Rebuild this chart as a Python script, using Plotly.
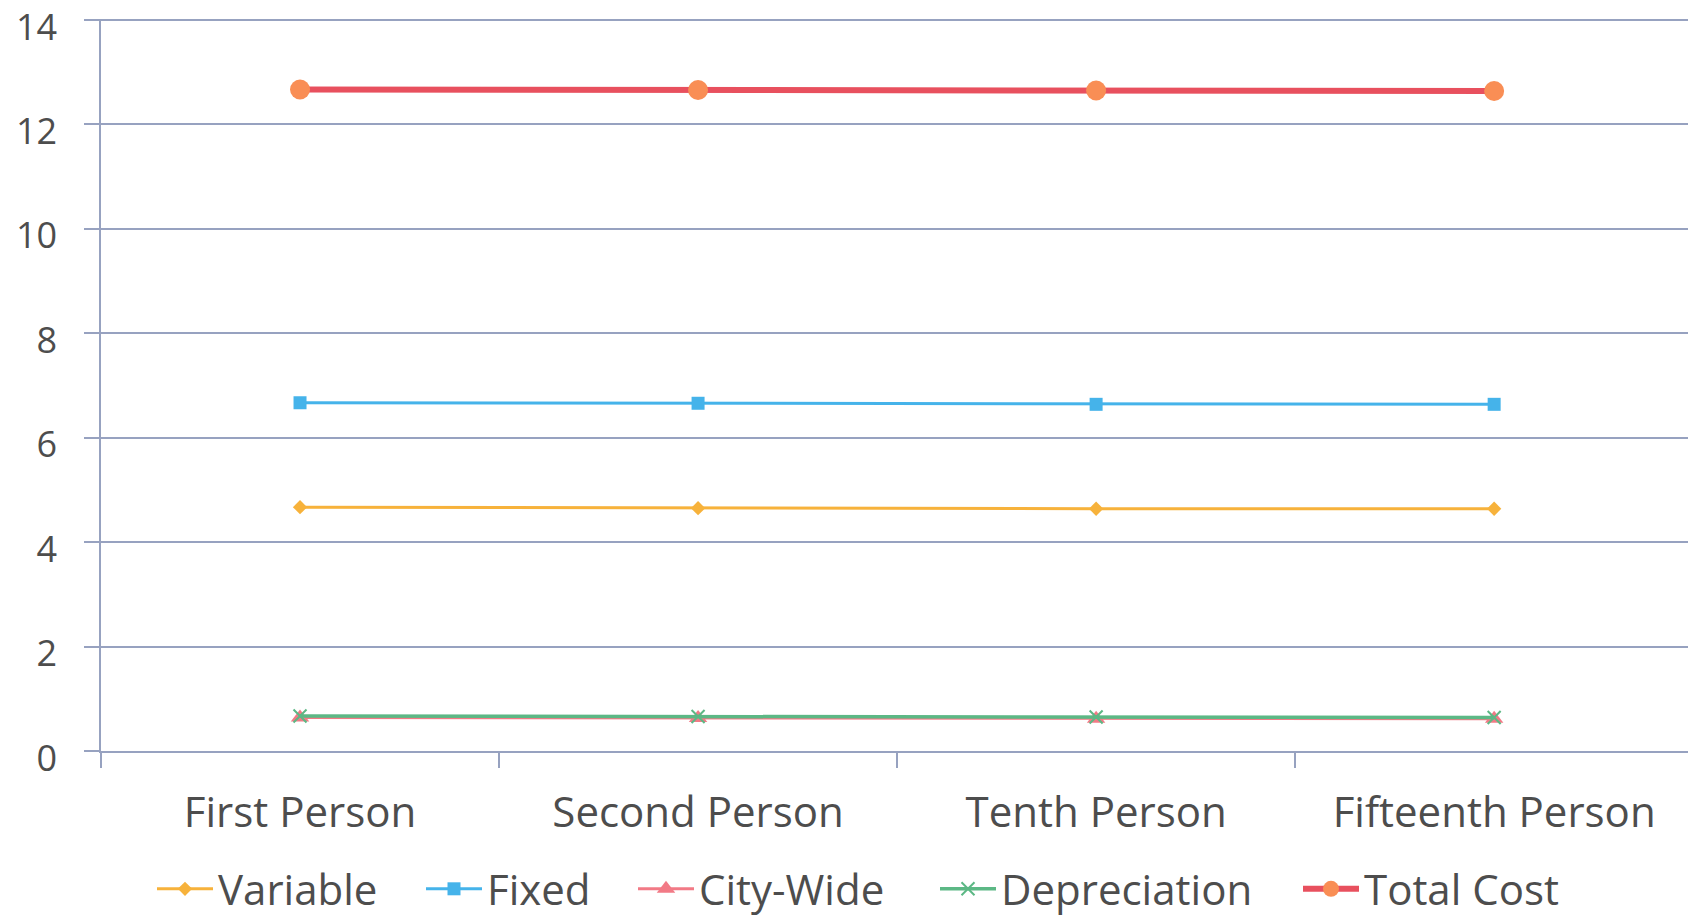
import plotly.graph_objects as go

# Cost per person for each stage of enrolment
categories = ["First Person", "Second Person", "Tenth Person", "Fifteenth Person"]
variable = [4.67, 4.65, 4.64, 4.64]
fixed = [6.67, 6.66, 6.64, 6.64]
city_wide = [0.64, 0.63, 0.62, 0.62]
depreciation = [0.67, 0.66, 0.65, 0.64]
total_cost = [12.67, 12.66, 12.65, 12.64]
y_ticks = [0, 2, 4, 6, 8, 10, 12, 14]

FONT = "Open Sans"
TEXT = "#4d4d4d"
GRID = "#97a2c0"

W, H = 1688, 919
PLOT_L, PLOT_T, PLOT_B = 101, 19, 168

fig = go.Figure()

# each series gets its own legend so the entries can be spread along the bottom
legend_px = {"Variable": 152, "Fixed": 421, "City-Wide": 633, "Depreciation": 935, "Total Cost": 1298}
LEGEND_Y = 889

def add_series(name, values, line_color, width, symbol, size, idx, marker_color=None, mline=0):
    lg = "legend" if idx == 1 else f"legend{idx}"
    fig.add_trace(go.Scatter(
        x=categories, y=values, name=name, mode="lines+markers",
        line=dict(color=line_color, width=width),
        marker=dict(symbol=symbol, size=size, color=marker_color or line_color,
                    line=dict(width=mline, color=marker_color or line_color)),
        legend=lg,
    ))
    fig.update_layout({lg: dict(
        xref="container", yref="container",
        x=legend_px[name] / W, xanchor="left",
        y=1 - LEGEND_Y / H, yanchor="middle", orientation="h", itemwidth=56,
        font=dict(size=42, color=TEXT, family=FONT),
        bgcolor="rgba(0,0,0,0)",
    )})

add_series("Variable", variable, "#f7b23b", 3, "diamond", 11, 1)
add_series("Fixed", fixed, "#45b3ea", 3, "square", 13, 2)
add_series("City-Wide", city_wide, "#f27a86", 3, "triangle-up", 16, 3)
add_series("Depreciation", depreciation, "#5cb885", 3.5, "x-thin", 13, 4, mline=2)
add_series("Total Cost", total_cost, "#e8505e", 6, "circle", 20, 5, marker_color="#f98e55")

fig.update_layout(
    width=W, height=H,
    margin=dict(l=PLOT_L, r=0, t=PLOT_T, b=PLOT_B),
    paper_bgcolor="white", plot_bgcolor="white",
    font=dict(family=FONT, color=TEXT, size=40),
    showlegend=True,
    xaxis=dict(
        type="category", range=[-0.5, 3.487], automargin=False,
        showgrid=False, showline=True, linecolor=GRID, linewidth=1.5,
        ticks="outside", tickson="boundaries", ticklen=15, tickcolor=GRID, tickwidth=1.5,
        tickfont=dict(size=42, color=TEXT), ticklabelstandoff=24,
    ),
    yaxis=dict(
        range=[0, 14.02], tickvals=y_ticks, ticktext=[str(v) for v in y_ticks],
        automargin=False, ticklabeloverflow="allow", ticklabelshift=7,
        showgrid=True, gridcolor=GRID, gridwidth=1.5,
        showline=True, linecolor=GRID, linewidth=1.5, zeroline=False,
        ticks="outside", ticklen=15, tickcolor=GRID, tickwidth=1.5,
        tickfont=dict(size=36, color=TEXT), ticklabelstandoff=20,
    ),
)

fig.write_html("out.html")
